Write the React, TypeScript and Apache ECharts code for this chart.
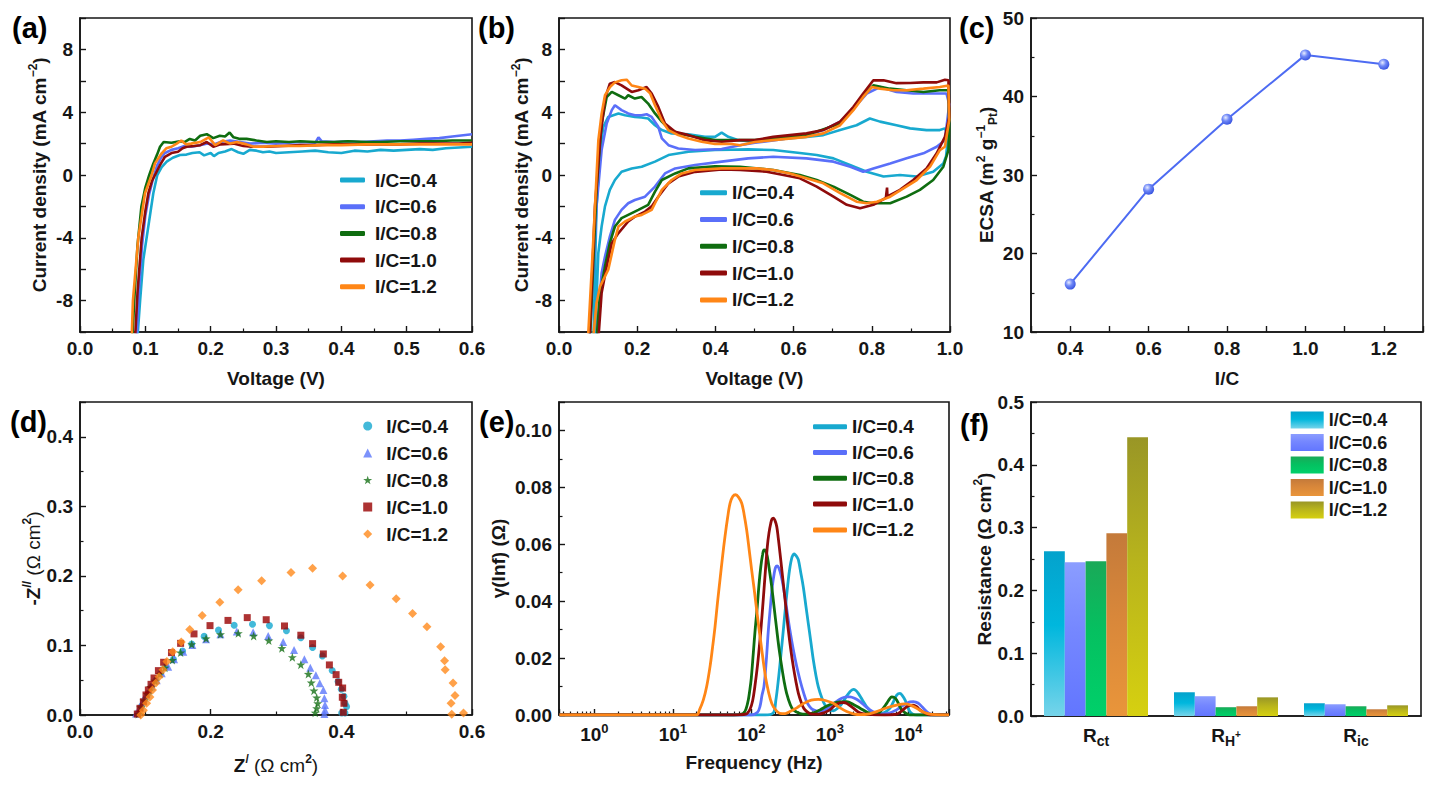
import React, { useEffect, useRef } from 'react';
import * as echarts from 'echarts';

const FONT = '"Liberation Sans", Arial, sans-serif';
const INK = '#161616';

const icLabels = ['I/C=0.4', 'I/C=0.6', 'I/C=0.8', 'I/C=1.0', 'I/C=1.2'];
const lineColors = ['#18a9cf', '#5a6ff9', '#0f6d10', '#8f0b0b', '#ff8616'];

// (a) LSV curves [V, mA cm-2]
const lsv04 = [[0.0877, -10.5], [0.092, -8], [0.0969, -5.4], [0.1045, -3.3], [0.1122, -1.16], [0.1183, 0], [0.125, 0.5], [0.1327, 0.85], [0.142, 1.1], [0.153, 1.27], [0.163, 1.3], [0.172, 1.4], [0.183, 1.45], [0.19, 1.25], [0.2, 1.4], [0.205, 1.2], [0.212, 1.4], [0.222, 1.5], [0.232, 1.65], [0.242, 1.45], [0.25, 1.35], [0.26, 1.6], [0.27, 1.55], [0.28, 1.45], [0.29, 1.5], [0.3, 1.4], [0.32, 1.45], [0.34, 1.5], [0.36, 1.55], [0.38, 1.45], [0.4, 1.4], [0.42, 1.55], [0.44, 1.5], [0.46, 1.6], [0.48, 1.55], [0.5, 1.6], [0.52, 1.65], [0.54, 1.6], [0.56, 1.7], [0.58, 1.75], [0.6, 1.8]];
const lsv06 = [[0.0865, -10.5], [0.09, -7.5], [0.095, -4.5], [0.1, -2.6], [0.106, -1.2], [0.112, -0.2], [0.118, 0.6], [0.124, 1.1], [0.13, 1.4], [0.14, 1.6], [0.15, 1.7], [0.16, 1.85], [0.17, 1.8], [0.184, 1.9], [0.195, 2.0], [0.205, 1.95], [0.215, 2.1], [0.23, 2.2], [0.245, 2.1], [0.26, 2.0], [0.28, 2.05], [0.3, 2.0], [0.32, 2.05], [0.34, 2.1], [0.36, 2.05], [0.365, 2.4], [0.37, 2.15], [0.39, 2.1], [0.41, 2.15], [0.43, 2.1], [0.45, 2.15], [0.47, 2.2], [0.49, 2.2], [0.51, 2.25], [0.53, 2.3], [0.55, 2.35], [0.57, 2.45], [0.59, 2.55], [0.6, 2.6]];
const lsv08 = [[0.08, -10.5], [0.083, -8], [0.088, -4.5], [0.094, -2], [0.1, -0.8], [0.106, 0], [0.112, 0.7], [0.118, 1.3], [0.1225, 1.8], [0.128, 2.1], [0.14, 2.05], [0.153, 2.15], [0.16, 2.1], [0.168, 2.3], [0.176, 2.2], [0.184, 2.5], [0.194, 2.6], [0.204, 2.35], [0.214, 2.5], [0.222, 2.45], [0.229, 2.7], [0.235, 2.4], [0.245, 2.3], [0.255, 2.3], [0.27, 2.2], [0.286, 2.1], [0.3, 2.15], [0.32, 2.1], [0.337, 2.15], [0.36, 2.1], [0.388, 2.1], [0.41, 2.15], [0.439, 2.1], [0.46, 2.1], [0.49, 2.15], [0.52, 2.15], [0.541, 2.15], [0.57, 2.2], [0.6, 2.2]];
const lsv10 = [[0.0842, -10.5], [0.088, -7.5], [0.0944, -4], [0.1, -2.3], [0.1046, -1.16], [0.11, -0.4], [0.1148, 0], [0.1224, 0.63], [0.13, 1.16], [0.14, 1.4], [0.15, 1.48], [0.157, 1.7], [0.1633, 1.8], [0.175, 1.85], [0.184, 1.9], [0.194, 2.1], [0.204, 1.8], [0.215, 1.95], [0.235, 2.0], [0.25, 1.85], [0.263, 1.8], [0.286, 1.8], [0.31, 1.85], [0.337, 1.9], [0.36, 1.9], [0.388, 1.95], [0.42, 1.95], [0.45, 1.95], [0.49, 1.95], [0.52, 2.0], [0.55, 2.0], [0.58, 2.0], [0.6, 2.05]];
const lsv12 = [[0.079, -10.5], [0.081, -8], [0.0892, -4], [0.0995, -1.16], [0.1097, 0], [0.1148, 0.74], [0.125, 1.38], [0.132, 1.7], [0.14, 1.8], [0.148, 2.0], [0.155, 2.2], [0.162, 1.95], [0.17, 2.0], [0.184, 2.1], [0.197, 2.4], [0.207, 1.9], [0.219, 2.2], [0.23, 2.0], [0.24, 2.1], [0.255, 1.95], [0.266, 1.8], [0.28, 1.8], [0.3, 1.85], [0.337, 1.85], [0.37, 1.9], [0.4, 1.9], [0.439, 1.95], [0.48, 1.95], [0.52, 1.95], [0.56, 1.95], [0.6, 1.95]];
const lsvCurves = [lsv04, lsv06, lsv08, lsv10, lsv12];

// (b) CV loops [V, mA cm-2], anodic branch then cathodic branch
const cv04 = [[0.088, -10.5], [0.096, -2], [0.105, 1.59], [0.1133, 3.07], [0.126, 3.7], [0.139, 3.81], [0.152, 3.92], [0.169, 3.81], [0.194, 3.7], [0.211, 3.66], [0.228, 3.6], [0.2455, 3.17], [0.263, 2.86], [0.288, 2.65], [0.331, 2.6], [0.373, 2.43], [0.399, 2.43], [0.416, 2.7], [0.433, 2.43], [0.459, 2.22], [0.501, 2.1], [0.548, 2.25], [0.633, 2.43], [0.676, 2.54], [0.719, 2.86], [0.761, 3.17], [0.795, 3.6], [0.821, 3.4], [0.863, 3.17], [0.898, 2.97], [0.94, 2.86], [0.974, 2.86], [0.987, 2.97], [0.995, 2.5], [0.99, 1.2], [0.983, 0.74], [0.957, 0.21], [0.915, -0.1], [0.872, 0], [0.83, -0.1], [0.787, 0.21], [0.744, 0.64], [0.702, 1.06], [0.659, 1.27], [0.616, 1.4], [0.548, 1.59], [0.484, 1.63], [0.399, 1.59], [0.331, 1.48], [0.28, 1.27], [0.2455, 0.85], [0.2115, 0.53], [0.186, 0.42], [0.16, 0.21], [0.143, -0.32], [0.13, -0.95], [0.1176, -2.0], [0.109, -3.28], [0.1006, -4.97], [0.092, -10.5]];
const cv06 = [[0.079, -10.5], [0.096, -2], [0.109, 1.59], [0.122, 3.28], [0.135, 4.13], [0.143, 4.44], [0.16, 4.13], [0.177, 3.92], [0.194, 3.81], [0.211, 3.81], [0.224, 3.87], [0.237, 3.7], [0.254, 3.07], [0.263, 2.33], [0.28, 1.9], [0.305, 1.69], [0.348, 1.59], [0.416, 1.65], [0.463, 1.9], [0.501, 2.05], [0.548, 2.2], [0.633, 2.5], [0.676, 2.86], [0.719, 3.4], [0.753, 4.23], [0.787, 5.19], [0.821, 5.6], [0.863, 5.29], [0.906, 5.19], [0.949, 5.19], [0.991, 5.19], [0.998, 4.5], [0.987, 2.22], [0.966, 1.8], [0.932, 1.38], [0.889, 1.06], [0.847, 0.74], [0.804, 0.42], [0.778, 0.21], [0.745, 0.53], [0.702, 0.85], [0.633, 1.06], [0.548, 1.16], [0.484, 1.06], [0.416, 0.85], [0.348, 0.64], [0.297, 0.42], [0.271, 0.1], [0.2455, -0.74], [0.22, -1.38], [0.194, -1.59], [0.177, -1.8], [0.16, -2.22], [0.143, -2.86], [0.13, -3.92], [0.1176, -5.19], [0.109, -6.24], [0.096, -10.5]];
const cv08 = [[0.079, -10.5], [0.096, -0.95], [0.109, 3.28], [0.122, 4.97], [0.135, 5.29], [0.152, 5.08], [0.169, 4.87], [0.177, 5.08], [0.194, 4.87], [0.211, 4.97], [0.228, 4.55], [0.2455, 3.92], [0.263, 3.4], [0.28, 2.97], [0.305, 2.65], [0.348, 2.43], [0.399, 2.22], [0.501, 2.22], [0.548, 2.33], [0.633, 2.54], [0.719, 3.28], [0.753, 4.23], [0.778, 5.08], [0.804, 5.71], [0.846, 5.5], [0.889, 5.4], [0.932, 5.29], [0.974, 5.4], [0.996, 5.4], [0.998, 3.0], [0.996, 1.59], [0.983, 0.53], [0.957, -0.32], [0.923, -0.95], [0.889, -1.38], [0.847, -1.8], [0.804, -1.8], [0.778, -1.7], [0.745, -1.27], [0.702, -0.74], [0.659, -0.32], [0.616, 0], [0.548, 0.32], [0.463, 0.53], [0.399, 0.55], [0.331, 0.42], [0.297, 0.1], [0.263, -0.32], [0.2455, -1.06], [0.228, -1.9], [0.203, -2.22], [0.177, -2.54], [0.16, -2.75], [0.143, -3.28], [0.13, -4.34], [0.1176, -5.82], [0.105, -7.51], [0.096, -10.5]];
const cv10 = [[0.078, -10.5], [0.092, -2], [0.105, 2.22], [0.1176, 4.87], [0.13, 5.82], [0.143, 5.92], [0.16, 5.71], [0.186, 5.29], [0.203, 5.4], [0.224, 5.6], [0.237, 5.19], [0.254, 4.34], [0.271, 3.28], [0.297, 2.75], [0.331, 2.54], [0.373, 2.22], [0.416, 2.12], [0.463, 2.22], [0.501, 2.22], [0.548, 2.43], [0.633, 2.65], [0.676, 2.86], [0.719, 3.4], [0.753, 4.34], [0.778, 5.19], [0.804, 6.03], [0.83, 6.03], [0.863, 5.85], [0.898, 5.86], [0.932, 5.9], [0.966, 5.9], [0.987, 6.07], [0.996, 6.03], [0.998, 3.7], [0.987, 2.43], [0.966, 1.38], [0.94, 0.42], [0.906, -0.32], [0.872, -0.95], [0.84, -1.36], [0.839, -0.8], [0.836, -1.45], [0.804, -1.9], [0.77, -2.12], [0.736, -1.9], [0.702, -1.38], [0.659, -0.74], [0.616, -0.21], [0.574, 0], [0.531, 0.21], [0.463, 0.32], [0.416, 0.36], [0.348, 0.2], [0.305, -0.1], [0.28, -0.53], [0.254, -1.38], [0.237, -2.0], [0.22, -2.33], [0.194, -2.65], [0.177, -2.96], [0.152, -3.7], [0.135, -4.34], [0.122, -5.82], [0.109, -7.51], [0.1006, -10.5]];
const cv12 = [[0.074, -10.5], [0.0878, -4.1], [0.0963, 0.1], [0.1006, 2.2], [0.109, 3.9], [0.1176, 5.08], [0.1304, 5.6], [0.143, 5.9], [0.16, 6.03], [0.173, 6.07], [0.186, 5.7], [0.203, 5.6], [0.22, 5.5], [0.233, 5.2], [0.2455, 4.44], [0.2626, 3.5], [0.2796, 2.86], [0.305, 2.54], [0.331, 2.33], [0.365, 2.12], [0.399, 1.97], [0.4417, 1.97], [0.463, 1.9], [0.501, 2.1], [0.548, 2.22], [0.633, 2.43], [0.676, 2.65], [0.719, 3.17], [0.753, 4.13], [0.778, 4.97], [0.8, 5.6], [0.821, 5.5], [0.855, 5.4], [0.889, 5.4], [0.932, 5.5], [0.974, 5.6], [0.996, 5.7], [0.998, 3.5], [0.987, 1.8], [0.974, 1.59], [0.949, 0.53], [0.915, -0.32], [0.881, -0.85], [0.847, -1.38], [0.813, -1.7], [0.787, -1.8], [0.761, -1.7], [0.719, -1.16], [0.676, -0.53], [0.633, -0.21], [0.591, 0.1], [0.548, 0.32], [0.506, 0.42], [0.463, 0.42], [0.416, 0.42], [0.348, 0.32], [0.314, 0.1], [0.288, -0.32], [0.263, -0.95], [0.2455, -1.8], [0.237, -2.22], [0.2115, -2.54], [0.194, -2.65], [0.169, -2.96], [0.152, -3.28], [0.143, -4.13], [0.126, -6.03], [0.1133, -6.67], [0.105, -7.09], [0.096, -8.15], [0.087, -10.5]];
const cvCurves = [cv04, cv06, cv08, cv10, cv12];

// (c) ECSA
const icRatio = [0.4, 0.6, 0.8, 1.0, 1.2];
const ecsa = [16.1, 28.2, 37.1, 45.3, 44.1];

// (d) Nyquist points [Z', -Z'']
const nyq04 = [[0.09, 0.002], [0.094, 0.012], [0.0995, 0.022], [0.1046, 0.031], [0.1097, 0.041], [0.1163, 0.05], [0.1235, 0.06], [0.131, 0.069], [0.143, 0.08], [0.157, 0.092], [0.171, 0.102], [0.19, 0.113], [0.212, 0.122], [0.236, 0.129], [0.264, 0.1305], [0.29, 0.1285], [0.316, 0.121], [0.338, 0.111], [0.356, 0.097], [0.371, 0.085], [0.386, 0.064], [0.395, 0.048], [0.4, 0.037], [0.404, 0.027], [0.4056, 0.017], [0.408, 0.012], [0.4056, 0.003], [0.4005, 0.003]];
const nyq06 = [[0.0857, 0.002], [0.0918, 0.012], [0.097, 0.022], [0.102, 0.031], [0.1097, 0.041], [0.1174, 0.05], [0.125, 0.06], [0.135, 0.0695], [0.144, 0.08], [0.158, 0.091], [0.172, 0.1007], [0.193, 0.109], [0.215, 0.116], [0.24, 0.12], [0.265, 0.119], [0.288, 0.1137], [0.311, 0.105], [0.3276, 0.0935], [0.3434, 0.08], [0.3525, 0.068], [0.361, 0.057], [0.367, 0.0456], [0.3725, 0.036], [0.374, 0.024], [0.375, 0.0144], [0.375, 0.0072], [0.374, 0.0014]];
const nyq08 = [[0.0892, 0.0014], [0.0929, 0.011], [0.098, 0.0206], [0.103, 0.03], [0.108, 0.04], [0.1148, 0.049], [0.1225, 0.059], [0.13, 0.068], [0.1413, 0.079], [0.154, 0.0897], [0.171, 0.1017], [0.193, 0.11], [0.215, 0.116], [0.2423, 0.1175], [0.2658, 0.1137], [0.289, 0.107], [0.309, 0.096], [0.325, 0.083], [0.338, 0.0724], [0.3495, 0.059], [0.354, 0.0465], [0.358, 0.035], [0.3623, 0.025], [0.3638, 0.0168], [0.3623, 0.0096], [0.36, 0.0033]];
const nyq10 = [[0.0877, 0.0014], [0.0918, 0.0096], [0.097, 0.019], [0.101, 0.0288], [0.1046, 0.036], [0.1087, 0.0441], [0.1133, 0.0532], [0.12, 0.0638], [0.128, 0.0758], [0.14, 0.0897], [0.154, 0.103], [0.1745, 0.1166], [0.199, 0.1285], [0.2265, 0.136], [0.256, 0.14], [0.285, 0.137], [0.313, 0.128], [0.338, 0.1147], [0.356, 0.1026], [0.3725, 0.0878], [0.3817, 0.072], [0.392, 0.058], [0.396, 0.047], [0.402, 0.0388], [0.4015, 0.0255], [0.404, 0.0168], [0.403, 0.0039]];
const nyq12 = [[0.093, 0.0], [0.097, 0.007], [0.102, 0.017], [0.107, 0.026], [0.111, 0.036], [0.116, 0.046], [0.121, 0.055], [0.127, 0.065], [0.133, 0.077], [0.142, 0.091], [0.155, 0.105], [0.168, 0.123], [0.187, 0.143], [0.214, 0.162], [0.242, 0.18], [0.278, 0.193], [0.323, 0.205], [0.356, 0.211], [0.402, 0.2], [0.444, 0.187], [0.484, 0.167], [0.509, 0.146], [0.531, 0.127], [0.552, 0.098], [0.558, 0.078], [0.559, 0.065], [0.571, 0.046], [0.574, 0.028], [0.568, 0.017], [0.569, 0.001], [0.587, 0.003]];
const nyqSets = [nyq04, nyq06, nyq08, nyq10, nyq12];
const STAR = 'path://M0,-10L2.35,-3.24L9.51,-3.09L3.8,1.24L5.88,8.09L0,4L-5.88,8.09L-3.8,1.24L-9.51,-3.09L-2.35,-3.24Z';
const nyqColors = ['#14a8cf', '#5b77fa', '#167016', '#990000', '#ff8a1c'];
const nyqSymbols = ['circle', 'triangle', STAR, 'rect', 'diamond'];
const nyqSizes = [7, 8, 9, 7, 9];

// (e) DRT [Hz, gamma]
const drt04 = [[0.36, 0], [150, 0], [191, 0.0008], [205, 0.005], [221, 0.0123], [238, 0.021], [256, 0.0299], [275, 0.039], [296, 0.0475], [311, 0.052], [327, 0.0551], [338, 0.0561], [350, 0.0566], [365, 0.0562], [380, 0.0556], [398, 0.0545], [427, 0.050], [459, 0.0451], [495, 0.0385], [532, 0.0322], [575, 0.0255], [617, 0.0193], [665, 0.014], [713, 0.01], [790, 0.0061], [869, 0.0035], [980, 0.0019], [1109, 0.0015], [1260, 0.0024], [1419, 0.0039], [1600, 0.0062], [1807, 0.0082], [1995, 0.009], [2150, 0.0086], [2307, 0.0076], [2600, 0.0053], [2951, 0.0029], [3400, 0.0011], [3981, 0.0003], [4900, 0.0008], [5848, 0.0024], [6500, 0.0048], [7112, 0.007], [7834, 0.0076], [8400, 0.0068], [9078, 0.0053], [9800, 0.003], [10470, 0.0012], [11500, 0.0003], [12880, 0], [33000, 0]];
const drt06 = [[0.36, 0], [100, 0], [120, 0.001], [129, 0.003], [137, 0.007], [145, 0.01], [155, 0.019], [165, 0.0299], [175, 0.038], [185, 0.0451], [195, 0.0495], [204, 0.0519], [214, 0.0524], [225, 0.0516], [240, 0.049], [256, 0.0451], [275, 0.0395], [296, 0.0334], [318, 0.028], [343, 0.0229], [378, 0.0172], [417, 0.0123], [460, 0.0081], [507, 0.0047], [560, 0.0028], [617, 0.0018], [750, 0.0012], [870, 0.0018], [1000, 0.0029], [1200, 0.0046], [1419, 0.0059], [1620, 0.0064], [1807, 0.0064], [2100, 0.0058], [2427, 0.0047], [2800, 0.0032], [3251, 0.0018], [3800, 0.0008], [4365, 0.0003], [5600, 0.0006], [7079, 0.0018], [8300, 0.0031], [9550, 0.0041], [10500, 0.0046], [11590, 0.0047], [12500, 0.0045], [13490, 0.0041], [15200, 0.0027], [16980, 0.0013], [19000, 0.0004], [21880, 0], [33000, 0]];
const drt08 = [[0.36, 0], [60, 0], [79, 0.0005], [86, 0.0023], [91.6, 0.0053], [96, 0.009], [100, 0.013], [106, 0.0217], [112, 0.03], [119, 0.038], [125, 0.0455], [132, 0.052], [139, 0.0562], [145, 0.058], [152, 0.0578], [160, 0.0557], [172, 0.05], [182, 0.0451], [196, 0.0375], [211, 0.0299], [227, 0.0228], [244, 0.017], [262, 0.0118], [282, 0.0076], [315, 0.0035], [343, 0.0018], [420, 0.0005], [501, 0.0003], [620, 0.0008], [750, 0.0018], [920, 0.0032], [1109, 0.0041], [1350, 0.0046], [1641, 0.0047], [2000, 0.0037], [2427, 0.0024], [3100, 0.0008], [3981, 0.0003], [4600, 0.0018], [5309, 0.0041], [5750, 0.0056], [6152, 0.0064], [6600, 0.0062], [7112, 0.0053], [7650, 0.0035], [8241, 0.0018], [9300, 0.0006], [10470, 0], [33000, 0]];
const drt10 = [[0.36, 0], [60, 0], [85, 0.0003], [96.2, 0.002], [104, 0.005], [111, 0.01], [120, 0.0175], [129, 0.0264], [137, 0.035], [145, 0.044], [152, 0.0515], [160, 0.0592], [168, 0.064], [177, 0.0674], [184, 0.0689], [191, 0.0692], [200, 0.0684], [211, 0.0662], [221, 0.062], [232, 0.0569], [246, 0.0505], [261, 0.044], [278, 0.037], [296, 0.0299], [318, 0.0231], [343, 0.017], [370, 0.0118], [398, 0.0076], [440, 0.0039], [483, 0.0018], [600, 0.0003], [724, 0.0003], [860, 0.0009], [1000, 0.0018], [1150, 0.0033], [1349, 0.0043], [1500, 0.0044], [1641, 0.0041], [1995, 0.0024], [2400, 0.0008], [2884, 0.0003], [5000, 0], [7079, 0.0003], [8300, 0.0015], [9550, 0.0029], [10600, 0.0034], [11590, 0.0035], [12800, 0.0029], [14130, 0.0018], [16500, 0.0006], [19050, 0], [33000, 0]];
const drt12 = [[0.36, 0], [20, 0], [22, 0.002], [24.5, 0.0053], [27, 0.01], [29.8, 0.017], [32, 0.0235], [34.5, 0.031], [37, 0.0392], [39.9, 0.0475], [43, 0.0556], [46.2, 0.0627], [50, 0.0695], [53.6, 0.0744], [58, 0.0768], [63.2, 0.0774], [69, 0.0765], [75.5, 0.0744], [81, 0.0705], [87.3, 0.065], [94, 0.058], [101, 0.051], [109, 0.044], [117, 0.037], [126, 0.0298], [136, 0.0229], [146, 0.0165], [157, 0.0111], [175, 0.0055], [191, 0.0029], [232, 0.0006], [270, 0.0005], [311, 0.0012], [380, 0.0025], [459, 0.004], [580, 0.0052], [713, 0.0055], [880, 0.0051], [1109, 0.0041], [1350, 0.0025], [1641, 0.0012], [2000, 0.0004], [2427, 0.0001], [3200, 0.0004], [3954, 0.0012], [4800, 0.0021], [5848, 0.0029], [7300, 0.0036], [9078, 0.0039], [10800, 0.0034], [12790, 0.0024], [15000, 0.0012], [17140, 0.0006], [22000, 0.0001], [33000, 0]];
const drtCurves = [drt04, drt06, drt08, drt10, drt12];
const freqMinorTicks = [0.4, 0.5, 0.6, 0.7, 0.8, 0.9, 2, 3, 4, 5, 6, 7, 8, 9, 20, 30, 40, 50, 60, 70, 80, 90, 200, 300, 400, 500, 600, 700, 800, 900, 2000, 3000, 4000, 5000, 6000, 7000, 8000, 9000, 20000, 30000];

// (f) resistances
const resistCats = ['Rct', 'RH+', 'Ric'];
const rct = [0.2625, 0.245, 0.2465, 0.291, 0.444];
const rh = [0.0378, 0.0315, 0.014, 0.0155, 0.0297];
const ric = [0.0203, 0.0187, 0.0155, 0.0107, 0.017];
const barGrad = [
  ['#04a2cc', '#00b7dd', '#76d4ea'],
  ['#8b9dff', '#7587ff', '#6276ff'],
  ['#1aa958', '#05c060', '#00d06a'],
  ['#c47a3a', '#d8873a', '#e9953a'],
  ['#999626', '#b8b41c', '#d6d010'],
];

const grids = [
  { left: 80, top: 18, width: 392, height: 314 },
  { left: 559, top: 18, width: 391, height: 314 },
  { left: 1031, top: 18, width: 392, height: 314 },
  { left: 80, top: 402, width: 392, height: 313 },
  { left: 559, top: 402, width: 390, height: 313 },
  { left: 1031, top: 402, width: 390, height: 314 },
];

const nameRich = {
  n: { fontFamily: FONT, fontWeight: 'bold', fontSize: 19, color: INK, lineHeight: 24 },
  l: { fontFamily: FONT, fontWeight: 'normal', fontSize: 19, color: INK, lineHeight: 24 },
  sup: { fontFamily: FONT, fontWeight: 'bold', fontSize: 12, color: INK, lineHeight: 12, verticalAlign: 'top' },
  sub: { fontFamily: FONT, fontWeight: 'bold', fontSize: 12, color: INK, lineHeight: 12, verticalAlign: 'bottom' },
};

const tickFmt = (step: number, digits: number) => (v: number) =>
  Math.abs(v / step - Math.round(v / step)) < 1e-6 ? v.toFixed(digits) : '';

function axis(grid: number, extra: any) {
  const { minor, fmt, ...rest } = extra;
  return {
    type: 'value',
    gridIndex: grid,
    nameLocation: 'middle',
    axisLine: { show: true, onZero: false, lineStyle: { color: INK, width: 1.6 } },
    axisTick: { show: true, inside: true, length: 6, lineStyle: { color: INK, width: 1.4 } },
    minorTick: { show: !!minor, splitNumber: 2, length: 3.5, lineStyle: { color: INK, width: 1.2 } },
    splitLine: { show: false },
    minorSplitLine: { show: false },
    axisLabel: { color: INK, fontFamily: FONT, fontWeight: 'bold', fontSize: 19, margin: 7, formatter: fmt },
    nameTextStyle: { color: INK, fontFamily: FONT, fontWeight: 'bold', fontSize: 19, rich: nameRich },
    ...rest,
  };
}

function legendBox(prefix: string, left: number, top: number, extra: any) {
  const { fontSize = 19, lineHeight = 20, pad = 0, ...rest } = extra;
  return {
    orient: 'vertical',
    left,
    top,
    selectedMode: false,
    data: icLabels.map((_, i) => prefix + i),
    formatter: (name: string) => icLabels[Number(name.slice(1))],
    itemStyle: { borderWidth: 0 },
    textStyle: { color: INK, fontFamily: FONT, fontWeight: 'bold', fontSize, lineHeight, padding: [0, 0, 0, pad] },
    ...rest,
  };
}

const catRich: Record<string, string> = {
  Rct: '{b|R}{s|ct}',
  'RH+': '{b|R}{s|H}{p|+}',
  Ric: '{b|R}{s|ic}',
};

const panelLabels = [
  { text: '(a)', left: 12, top: 13 },
  { text: '(b)', left: 478, top: 13 },
  { text: '(c)', left: 959, top: 13 },
  { text: '(d)', left: 10, top: 407 },
  { text: '(e)', left: 479, top: 407 },
  { text: '(f)', left: 960, top: 410 },
];

const App = () => {
  const chartRef = useRef<HTMLDivElement>(null);

  useEffect(() => {
    const chart = echarts.init(chartRef.current, null, { renderer: 'svg' });

    const xAxis = [
      axis(0, { min: 0, max: 0.6, interval: 0.1, minor: true, fmt: tickFmt(0.1, 1), name: 'Voltage (V)', nameGap: 37 }),
      axis(1, { min: 0, max: 1, interval: 0.2, minor: true, fmt: tickFmt(0.2, 1), name: 'Voltage (V)', nameGap: 37 }),
      axis(2, { min: 0.3, max: 1.3, interval: 0.1, fmt: tickFmt(0.2, 1), name: 'I/C', nameGap: 37 }),
      axis(3, {
        min: 0, max: 0.6, interval: 0.2, minor: true, fmt: tickFmt(0.2, 1), nameGap: 38,
        name: '{n|Z}{sup|/}{l| (Ω cm}{sup|2}{l|)}',
      }),
      axis(4, {
        type: 'log', logBase: 10, min: 0.355, max: 33000, nameGap: 38, name: 'Frequency (Hz)',
        axisLabel: {
          color: INK, margin: 7,
          formatter: (v: number) => {
            const e = Math.log10(v);
            return Math.abs(e - Math.round(e)) < 1e-6 ? `{b|10}{s|${Math.round(e)}}` : '';
          },
          rich: {
            b: { fontFamily: FONT, fontWeight: 'bold', fontSize: 19, color: INK, lineHeight: 24 },
            s: { fontFamily: FONT, fontWeight: 'bold', fontSize: 13, color: INK, lineHeight: 13, verticalAlign: 'top' },
          },
        },
      }),
      {
        type: 'category',
        gridIndex: 5,
        data: resistCats,
        axisLine: { show: true, onZero: false, lineStyle: { color: INK, width: 1.6 } },
        axisTick: { show: true, inside: true, alignWithLabel: true, length: 6, lineStyle: { color: INK, width: 1.4 } },
        splitLine: { show: false },
        axisLabel: {
          margin: 6,
          formatter: (v: string) => catRich[v],
          rich: {
            b: { fontFamily: FONT, fontWeight: 'bold', fontSize: 19, color: INK, lineHeight: 26 },
            s: { fontFamily: FONT, fontWeight: 'bold', fontSize: 14, color: INK, lineHeight: 14, verticalAlign: 'bottom' },
            p: { fontFamily: FONT, fontWeight: 'bold', fontSize: 10, color: INK, lineHeight: 10, verticalAlign: 'bottom', padding: [0, 0, 9, 0] },
          },
        },
      },
      {
        type: 'value',
        gridIndex: 4,
        position: 'bottom',
        min: Math.log10(0.355),
        max: Math.log10(33000),
        axisLine: { show: false },
        axisLabel: { show: false },
        splitLine: { show: false },
        axisTick: {
          show: true, inside: true, length: 3.5,
          customValues: freqMinorTicks.map((f) => Math.log10(f)),
          lineStyle: { color: INK, width: 1.2 },
        },
      },
    ];

    const yAxis = [
      axis(0, { min: -10, max: 10, interval: 2, fmt: tickFmt(4, 0), nameGap: 29, name: '{n|Current density (mA cm}{sup|−2}{n|)}' }),
      axis(1, { min: -10, max: 10, interval: 2, fmt: tickFmt(4, 0), nameGap: 23, name: '{n|Current density (mA cm}{sup|−2}{n|)}' }),
      axis(2, { min: 10, max: 50, interval: 10, minor: true, fmt: tickFmt(10, 0), nameGap: 28, name: '{n|ECSA (m}{sup|2}{n| g}{sup|−1}{sub|Pt}{n|)}' }),
      axis(3, { min: 0, max: 0.45, interval: 0.1, minor: true, fmt: tickFmt(0.1, 1), nameGap: 34, name: '{n|-Z}{sup|//}{l| (Ω cm}{sup|2}{l|)}' }),
      axis(4, { min: 0, max: 0.11, interval: 0.02, minor: true, fmt: tickFmt(0.02, 2), nameGap: 51, name: 'γ(lnf) (Ω)' }),
      axis(5, { min: 0, max: 0.5, interval: 0.1, minor: true, fmt: tickFmt(0.1, 1), nameGap: 32, name: '{n|Resistance (Ω cm}{sup|2}{n|)}' }),
    ];

    const series: any[] = [];
    lsvCurves.forEach((d, i) => series.push({
      name: 'a' + i, type: 'line', xAxisIndex: 0, yAxisIndex: 0, data: d, symbol: 'none', showSymbol: false,
      lineStyle: { color: lineColors[i], width: 2.6 }, itemStyle: { color: lineColors[i] },
    }));
    cvCurves.forEach((d, i) => series.push({
      name: 'b' + i, type: 'line', xAxisIndex: 1, yAxisIndex: 1, data: d, symbol: 'none', showSymbol: false,
      lineStyle: { color: lineColors[i], width: 2.6 }, itemStyle: { color: lineColors[i] },
    }));
    series.push({
      name: 'c0', type: 'line', xAxisIndex: 2, yAxisIndex: 2,
      data: icRatio.map((x, i) => [x, ecsa[i]]),
      symbol: 'circle', symbolSize: 11,
      lineStyle: { color: '#4d6bf2', width: 2 },
      itemStyle: {
        color: {
          type: 'radial', x: 0.38, y: 0.35, r: 0.7,
          colorStops: [
            { offset: 0, color: '#e8edff' },
            { offset: 0.45, color: '#6f88f7' },
            { offset: 1, color: '#3450de' },
          ],
        },
      },
    });
    nyqSets.forEach((d, i) => series.push({
      name: 'd' + i, type: 'scatter', xAxisIndex: 3, yAxisIndex: 3, data: d,
      symbol: nyqSymbols[i], symbolSize: nyqSizes[i], itemStyle: { color: nyqColors[i] },
    }));
    drtCurves.forEach((d, i) => series.push({
      name: 'e' + i, type: 'line', xAxisIndex: 4, yAxisIndex: 4, data: d, symbol: 'none', showSymbol: false,
      smooth: 0.35, lineStyle: { color: lineColors[i], width: 2.8 }, itemStyle: { color: lineColors[i] },
    }));
    icLabels.forEach((_, i) => series.push({
      name: 'f' + i, type: 'bar', xAxisIndex: 5, yAxisIndex: 5,
      data: [rct[i], rh[i], ric[i]],
      barGap: '0%', barCategoryGap: '20%',
      itemStyle: {
        color: {
          type: 'linear', x: 0, y: 0, x2: 0, y2: 1,
          colorStops: [
            { offset: 0, color: barGrad[i][0] },
            { offset: 0.45, color: barGrad[i][1] },
            { offset: 1, color: barGrad[i][2] },
          ],
        },
      },
    }));

    const option = {
      animation: false,
      backgroundColor: '#ffffff',
      textStyle: { fontFamily: FONT },
      grid: grids.map((g) => ({ ...g, show: true, borderColor: INK, borderWidth: 1.6, backgroundColor: 'transparent' })),
      xAxis,
      yAxis,
      legend: [
        legendBox('a', 335, 165, { icon: 'roundRect', itemWidth: 25, itemHeight: 5, itemGap: 6.7, pad: 5 }),
        legendBox('b', 695, 177.7, { icon: 'roundRect', itemWidth: 27, itemHeight: 5, itemGap: 6.8 }),
        legendBox('d', 358.2, 411, { itemWidth: 9, itemHeight: 9, itemGap: 7, pad: 9 }),
        legendBox('e', 808, 411.7, { icon: 'roundRect', itemWidth: 34, itemHeight: 5, itemGap: 5.8 }),
        legendBox('f', 1285.7, 406, { icon: 'rect', itemWidth: 33, itemHeight: 17, itemGap: 4.5, fontSize: 18, lineHeight: 18 }),
      ],
      series,
      graphic: panelLabels.map((p) => ({
        type: 'text', left: p.left, top: p.top, silent: true,
        style: { text: p.text, fill: '#000', font: `bold 29px ${FONT}` },
      })),
    };

    chart.setOption(option as any);

    return () => {
      chart.dispose();
    };
  }, []);

  return (
    <div
      ref={chartRef}
      style={{ position: 'fixed', left: 0, top: 0, width: '1432px', height: '787px', background: '#fff' }}
    />
  );
};

export default App;
